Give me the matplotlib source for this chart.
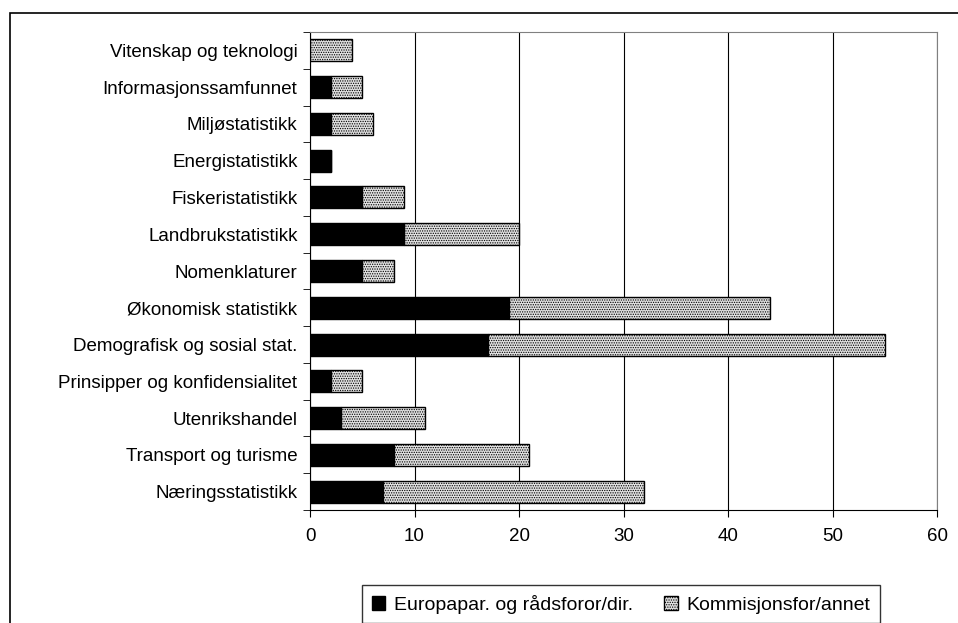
import matplotlib
matplotlib.use('Agg')
import matplotlib.pyplot as plt
from matplotlib.patches import Rectangle

plt.rcParams['font.family'] = ['Liberation Sans', 'DejaVu Sans']
plt.rcParams['hatch.color'] = '#9a9a9a'
plt.rcParams['hatch.linewidth'] = 0.6

# Categories from top to bottom as in the chart
categories = ['Vitenskap og teknologi', 'Informasjonssamfunnet', 'Miljøstatistikk',
              'Energistatistikk', 'Fiskeristatistikk', 'Landbrukstatistikk',
              'Nomenklaturer', 'Økonomisk statistikk', 'Demografisk og sosial stat.',
              'Prinsipper og konfidensialitet', 'Utenrikshandel',
              'Transport og turisme', 'Næringsstatistikk']
europapar = [0, 2, 2, 2, 5, 9, 5, 19, 17, 2, 3, 8, 7]
kommisjon = [4, 3, 4, 0, 4, 11, 3, 25, 38, 3, 8, 13, 25]

fig = plt.figure(figsize=(9.58, 6.23), dpi=100)
ax = fig.add_axes([310 / 958, 1 - 510 / 623, 627 / 958, 478 / 623])

# outer chart frame
fig.patches.append(Rectangle((10 / 958, -0.1), 1.2, 1 - 13 / 623 + 0.1,
                             transform=fig.transFigure, fill=False,
                             edgecolor='black', linewidth=1.2))

y = list(range(len(categories)))[::-1]
ax.barh(y, europapar, height=0.6, color='black', edgecolor='black',
        linewidth=1, label='Europapar. og rådsforor/dir.', zorder=3)
ax.barh(y, kommisjon, left=europapar, height=0.6, color='#e0e0e0',
        edgecolor='black', hatch='.......', linewidth=1,
        label='Kommisjonsfor/annet', zorder=3)

ax.set_xlim(0, 60)
ax.set_ylim(-0.5, len(categories) - 0.5)
ax.set_xticks(range(0, 61, 10))
ax.xaxis.grid(True, color='black', linewidth=0.8)
ax.set_axisbelow(True)

ax.set_yticks(y)
ax.set_yticklabels(categories, fontsize=13.5)
ax.set_yticks([i - 0.5 for i in range(len(categories) + 1)], minor=True)
ax.tick_params(axis='y', which='major', length=0, pad=9)
ax.tick_params(axis='y', which='minor', length=5, color='black')
ax.tick_params(axis='x', length=5, labelsize=13.5, pad=8)

ax.spines['top'].set_color('#808080')
ax.spines['right'].set_color('#808080')

leg = ax.legend(loc='upper left', bbox_to_anchor=(362 / 958, 1 - 585 / 623),
                bbox_transform=fig.transFigure, ncol=2, fontsize=14,
                frameon=True, fancybox=False, edgecolor='black',
                handlelength=0.7, handleheight=0.7, handletextpad=0.45,
                columnspacing=1.6, borderpad=0.5, borderaxespad=0)
leg.get_frame().set_linewidth(1)

fig.savefig('out.png', dpi=100)
